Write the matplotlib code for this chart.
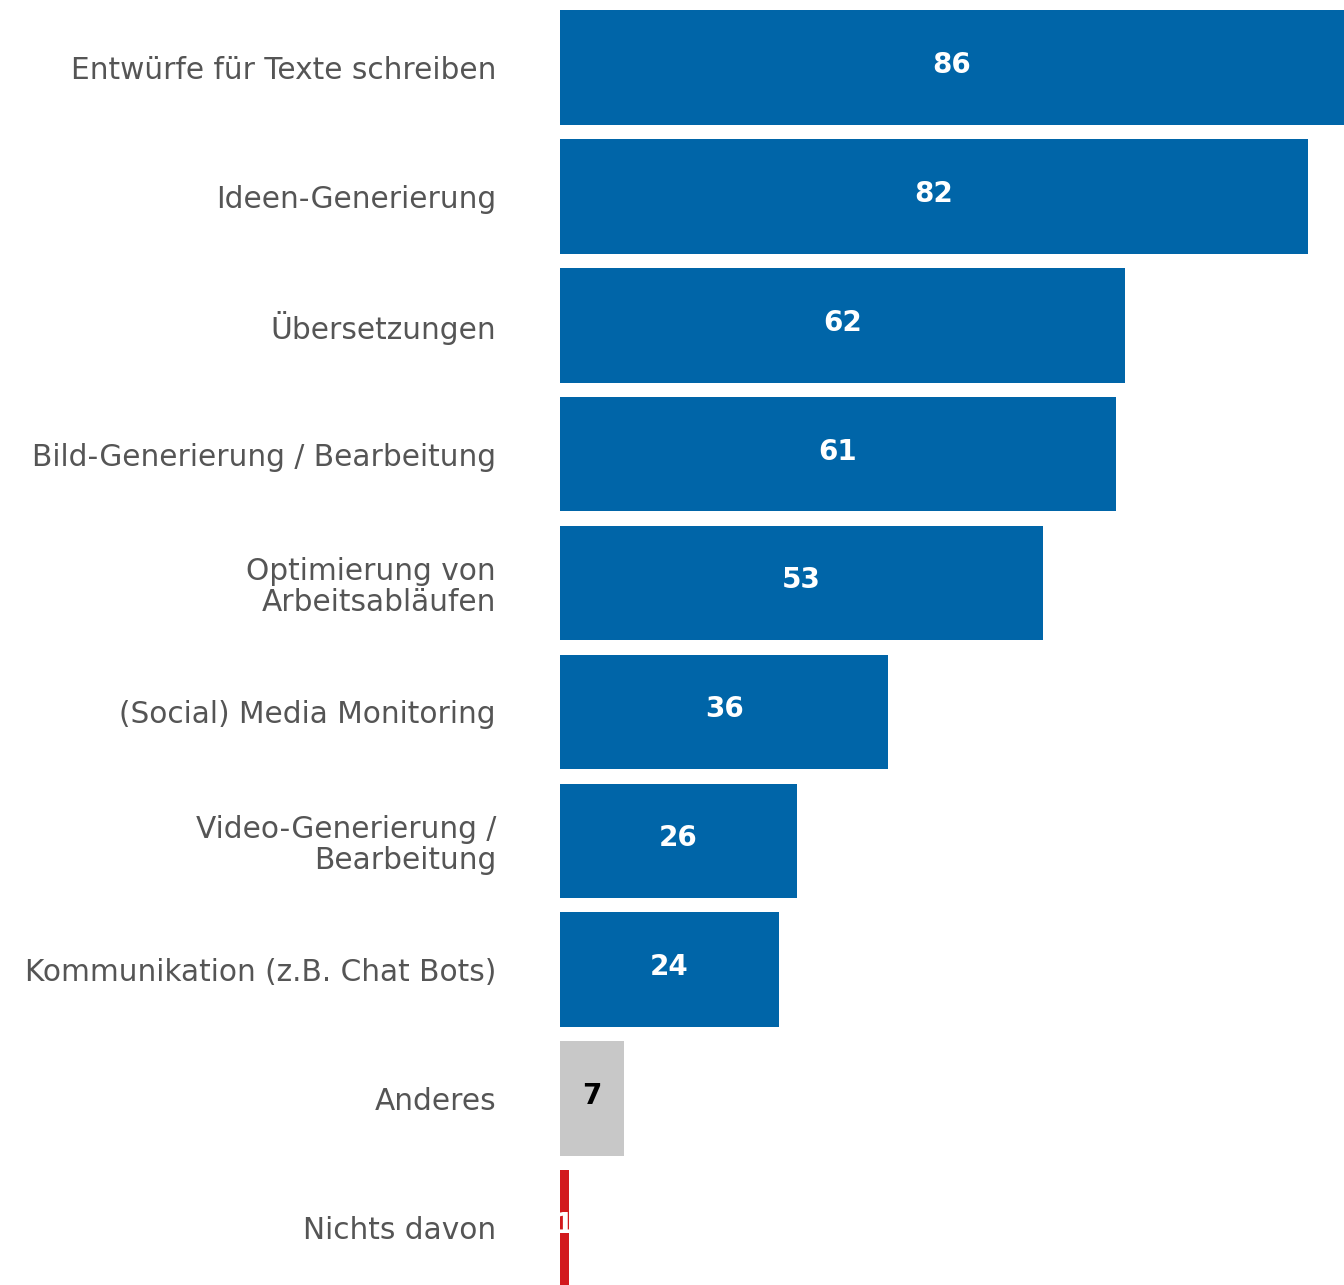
import matplotlib
matplotlib.use("Agg")
import matplotlib.pyplot as plt

categories = ["Entwürfe für Texte schreiben", "Ideen-Generierung", "Übersetzungen",
              "Bild-Generierung / Bearbeitung", "Optimierung von\nArbeitsabläufen",
              "(Social) Media Monitoring", "Video-Generierung /\nBearbeitung",
              "Kommunikation (z.B. Chat Bots)", "Anderes", "Nichts davon"]
values = [86, 82, 62, 61, 53, 36, 26, 24, 7, 1]
colors = ["#0065A8"] * 8 + ["#C8C8C8", "#D2191D"]
label_colors = ["white"] * 8 + ["black", "white"]

fig = plt.figure(figsize=(13.44, 12.85), dpi=100)
ax = fig.add_axes([560/1344, 0, 784/1344, 1275/1285])
y = list(range(len(categories)))
ax.barh(y, values, height=0.89, color=colors)
ax.set_xlim(0, 86)
ax.set_ylim(len(categories) - 1 + 0.445, -0.445)
for yi, v, lc in zip(y, values, label_colors):
    ax.text(v / 2, yi - 0.02, str(v), ha="center", va="center", color=lc,
            fontsize=20, fontweight="bold", family="DejaVu Sans")
ax.set_yticks(y)
ax.set_yticklabels(categories, fontsize=21.3, color="#555555", family="DejaVu Sans",
                   linespacing=1.1)
ax.tick_params(axis="y", length=0, pad=46)
ax.set_xticks([])
for s in ax.spines.values():
    s.set_visible(False)
fig.savefig("out.png", dpi=100)
